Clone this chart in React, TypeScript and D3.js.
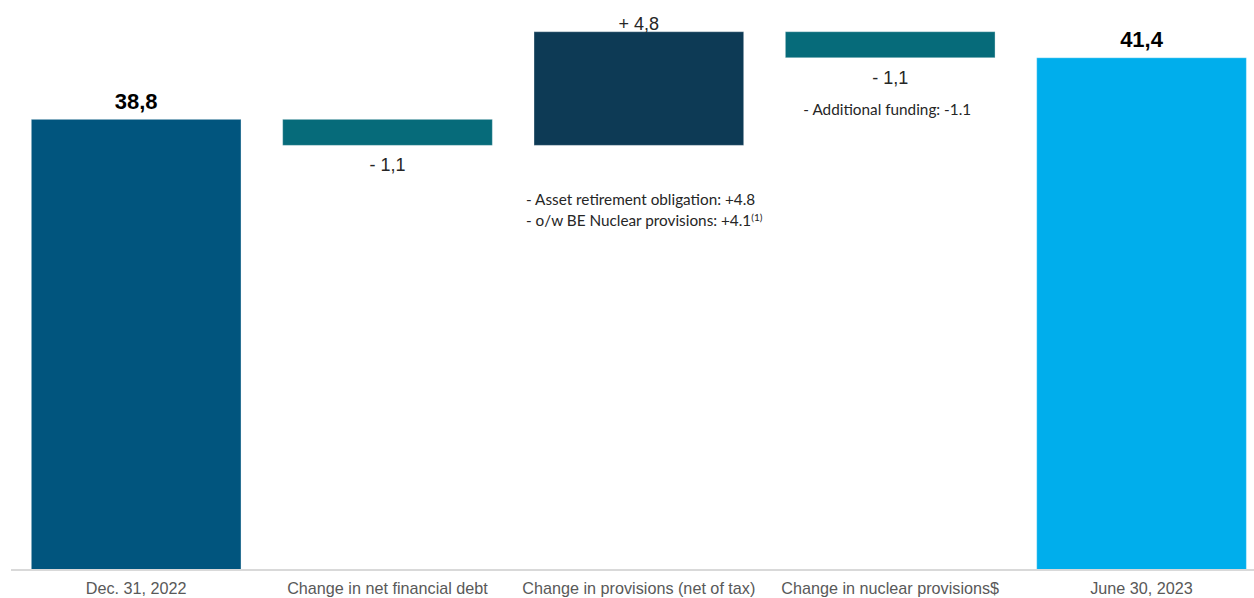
import React from "react";
import * as d3 from "d3";

const categories = [
  "Dec. 31, 2022",
  "Change in net financial debt",
  "Change in provisions (net of tax)",
  "Change in nuclear provisions$",
  "June 30, 2023",
];
const deltas = [38.8, -1.1, 4.8, -1.1, 41.4];
const kinds = ["total", "delta", "delta", "delta", "total"];
const valueLabels = ["38,8", "- 1,1", "+ 4,8", "- 1,1", "41,4"];
const barColors = ["#01557e", "#066b7a", "#0d3a55", "#066b7a", "#00aeec"];
const notes: { cat: number; lines: { text: string; sup?: string }[] }[] = [
  {
    cat: 2,
    lines: [
      { text: "- Asset retirement obligation: +4.8" },
      { text: "- o/w BE Nuclear provisions: +4.1", sup: "(1)" },
    ],
  },
  { cat: 3, lines: [{ text: "- Additional funding: -1.1" }] },
];

const W = 1254;
const H = 598;

export default function App() {
  let run = 0;
  const segs = deltas.map((d, i) => {
    if (kinds[i] === "total") {
      run = d;
      return { i, y0: 0, y1: d, up: true };
    }
    const start = run;
    run = run + d;
    return { i, y0: start, y1: run, up: d >= 0 };
  });

  const x = d3
    .scaleBand<string>()
    .domain(categories)
    .range([11, 1266.7])
    .paddingInner(0.1657)
    .paddingOuter(0.0808);

  const y = d3.scaleLinear().domain([19.79, 42.5]).range([569.5, 31.7]);
  const base = y.range()[0];

  return (
    <svg
      width={W}
      height={H}
      style={{ position: "absolute", left: 0, top: 0, background: "#fff" }}
    >
      {segs.map((s) => {
        const c = categories[s.i];
        const isTotal = kinds[s.i] === "total";
        const top = isTotal ? y(s.y1) : y(Math.max(s.y0, s.y1));
        const bottom = isTotal ? base : y(Math.min(s.y0, s.y1));
        return (
          <rect
            key={c}
            x={x(c)}
            y={top}
            width={x.bandwidth()}
            height={bottom - top}
            fill={barColors[s.i]}
            stroke="rgba(255,255,255,0.35)"
            strokeWidth={1}
          />
        );
      })}
      <line x1={11} x2={W} y1={base + 0.5} y2={base + 0.5} stroke="#d9d9d9" strokeWidth={2} />
      {segs.map((s) => {
        const c = categories[s.i];
        const cx = (x(c) as number) + x.bandwidth() / 2;
        const isTotal = kinds[s.i] === "total";
        if (isTotal) {
          return (
            <text
              key={"v" + c}
              x={cx}
              y={y(s.y1) - 10.5}
              textAnchor="middle"
              fontFamily="'Liberation Sans', Arial, sans-serif"
              fontWeight="bold"
              fontSize={22}
              fill="#000"
            >
              {valueLabels[s.i]}
            </text>
          );
        }
        const yy = s.up ? y(Math.max(s.y0, s.y1)) - 2 : y(Math.min(s.y0, s.y1)) + 26;
        return (
          <text
            key={"v" + c}
            x={cx}
            y={yy}
            textAnchor="middle"
            fontFamily="'Liberation Sans', Arial, sans-serif"
            fontSize={18}
            fill="#262626"
          >
            {valueLabels[s.i]}
          </text>
        );
      })}
      {notes.map((n) => {
        const c = categories[n.cat];
        const s = segs[n.cat];
        const x0 = (x(c) as number) + (n.cat === 2 ? -8 : 18);
        const y0 = n.cat === 2 ? 205 : y(Math.min(s.y0, s.y1)) + 57;
        return (
          <text
            key={"n" + c}
            fontFamily="Lato, 'Open Sans', sans-serif"
            fontSize={15.3}
            fill="#262626"
          >
            {n.lines.map((l, k) => (
              <tspan key={k} x={x0} y={y0 + k * 21}>
                {l.text}
                {l.sup ? (
                  <tspan dy={-5} fontSize={10}>
                    {l.sup}
                  </tspan>
                ) : null}
              </tspan>
            ))}
          </text>
        );
      })}
      {categories.map((c) => (
        <text
          key={"c" + c}
          x={(x(c) as number) + x.bandwidth() / 2}
          y={594}
          textAnchor="middle"
          fontFamily="'Liberation Sans', Arial, sans-serif"
          fontSize={16.2}
          fill="#595959"
        >
          {c}
        </text>
      ))}
    </svg>
  );
}
